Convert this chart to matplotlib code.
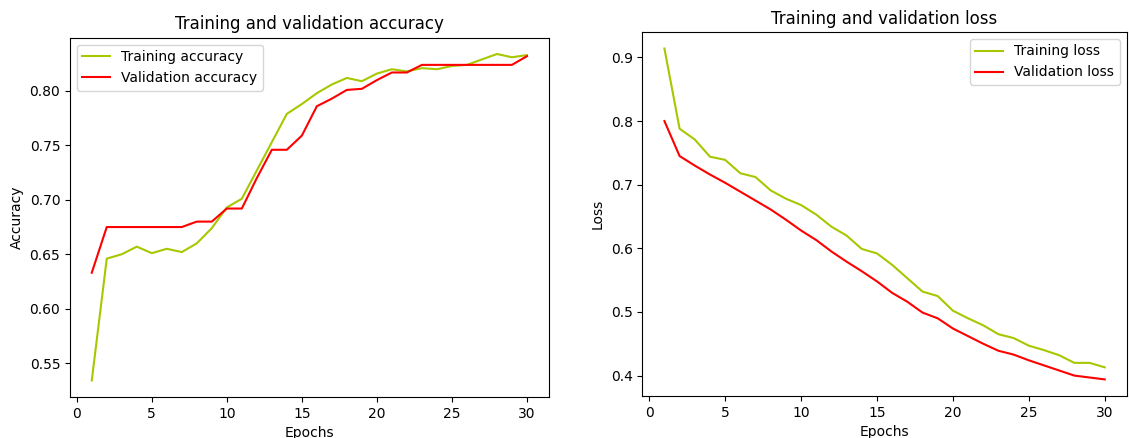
import numpy as np
import matplotlib
matplotlib.use("Agg")
import matplotlib.pyplot as plt

# values, one per epoch
epochs = list(range(1, 31))

train_acc = [0.534, 0.646, 0.650, 0.657, 0.651, 0.655, 0.652, 0.660, 0.674, 0.693,
             0.701, 0.727, 0.753, 0.779, 0.788, 0.798, 0.806, 0.812, 0.809, 0.816,
             0.820, 0.818, 0.821, 0.820, 0.823, 0.824, 0.829, 0.834, 0.831, 0.833]
val_acc = [0.633, 0.675, 0.675, 0.675, 0.675, 0.675, 0.675, 0.680, 0.680, 0.692,
           0.692, 0.720, 0.746, 0.746, 0.759, 0.786, 0.793, 0.801, 0.802, 0.810,
           0.817, 0.817, 0.824, 0.824, 0.824, 0.824, 0.824, 0.824, 0.824, 0.832]

train_loss = [0.914, 0.788, 0.771, 0.744, 0.739, 0.718, 0.712, 0.691, 0.678, 0.668,
              0.653, 0.634, 0.620, 0.599, 0.592, 0.574, 0.553, 0.532, 0.525, 0.502,
              0.490, 0.479, 0.465, 0.459, 0.447, 0.440, 0.432, 0.420, 0.420, 0.413]
val_loss = [0.800, 0.745, 0.730, 0.716, 0.703, 0.689, 0.675, 0.661, 0.645, 0.628,
            0.613, 0.595, 0.579, 0.564, 0.548, 0.530, 0.516, 0.499, 0.490, 0.474,
            0.462, 0.450, 0.439, 0.433, 0.424, 0.416, 0.408, 0.400, 0.397, 0.394]

TRAIN_COLOR = '#a6c800'
VAL_COLOR = '#ff0000'

fig = plt.figure(figsize=(11.29, 4.38), dpi=100)

# left panel: accuracy
ax1 = fig.add_axes([0.062, 0.094, 0.424, 0.820])
ax1.plot(epochs, train_acc, color=TRAIN_COLOR, label='Training accuracy')
ax1.plot(epochs, val_acc, color=VAL_COLOR, label='Validation accuracy')
ax1.set_title('Training and validation accuracy')
ax1.set_xlabel('Epochs')
ax1.set_ylabel('Accuracy')
ax1.legend(loc='upper left')

# right panel: loss
ax2 = fig.add_axes([0.569, 0.096, 0.429, 0.831])
ax2.plot(epochs, train_loss, color=TRAIN_COLOR, label='Training loss')
ax2.plot(epochs, val_loss, color=VAL_COLOR, label='Validation loss')
ax2.set_title('Training and validation loss')
ax2.set_xlabel('Epochs')
ax2.set_ylabel('Loss')
ax2.legend(loc='upper right')

fig.savefig('out.png', dpi=100)
